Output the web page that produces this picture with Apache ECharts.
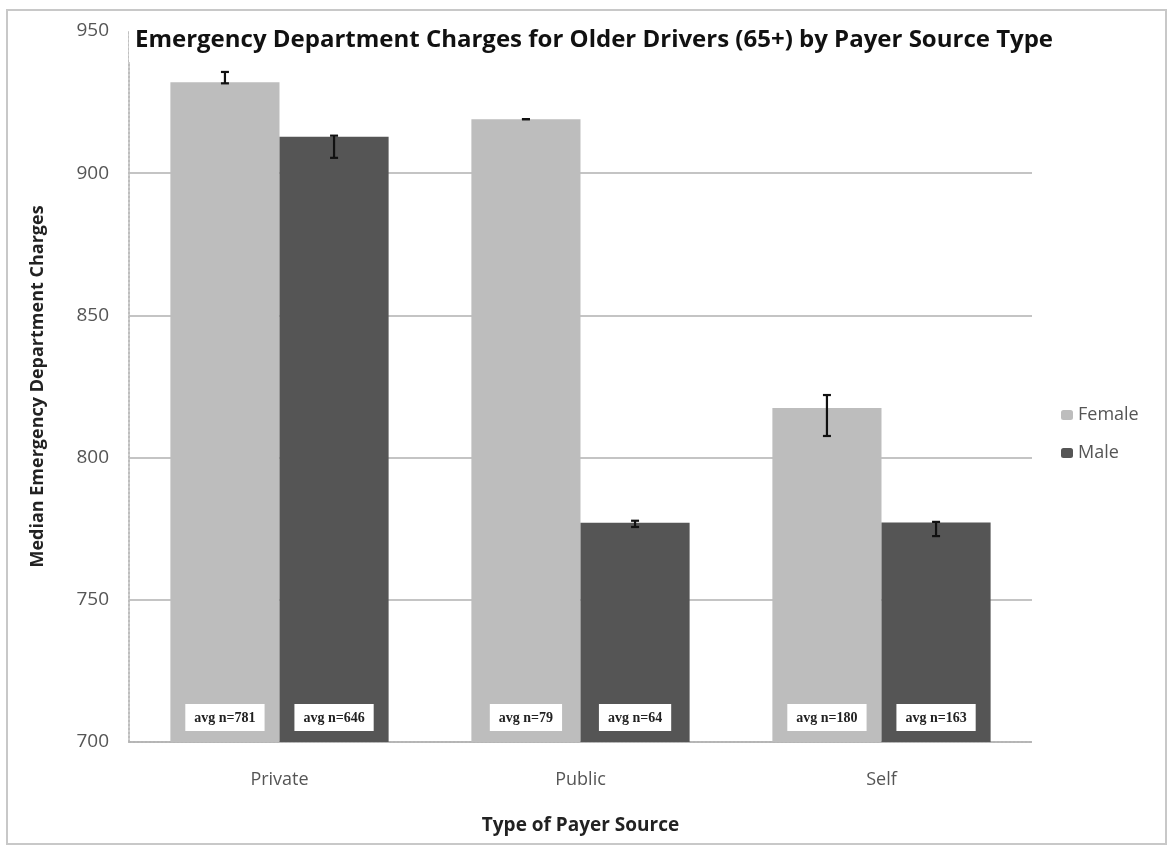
<!DOCTYPE html>
<html>
<head>
<meta charset="utf-8">
<script src="https://cdn.jsdelivr.net/npm/echarts@6/dist/echarts.min.js"></script>
<style>
html,body{margin:0;padding:0;background:#fff;}
#chart{width:1168px;height:850px;}
</style>
</head>
<body>
<div id="chart"></div>
<script>
const categories = ['Private', 'Public', 'Self'];
const femaleValues = [932, 919, 817.4];
const maleValues = [912.8, 777.1, 777.2];
const femaleErrLow = [931.6, 919, 807.6];
const femaleErrHigh = [935.6, 919, 822];
const maleErrLow = [905.4, 775.6, 772.4];
const maleErrHigh = [913.2, 777.8, 777.4];
const femaleN = [781, 79, 180];
const maleN = [646, 64, 163];
const yTicks = [700, 750, 800, 850, 900, 950];

const GAP = 0.275;

function errSeries(name, low, high, side) {
  return {
    name: name + ' err',
    type: 'custom',
    z: 10,
    silent: true,
    data: categories.map((c, i) => [i, low[i], high[i]]),
    encode: { x: 0, y: [1, 2] },
    renderItem: function (params, api) {
      const ci = api.value(0);
      const lo = api.value(1), hi = api.value(2);
      const band = api.size([1, 0])[0];
      const barW = band * (1 - GAP) / 2;
      const pLo = api.coord([ci, lo]);
      const pHi = api.coord([ci, hi]);
      const x = pLo[0] + side * barW / 2;
      const cap = 4;
      const st = { stroke: '#111', lineWidth: 2.2 };
      return {
        type: 'group',
        children: [
          { type: 'line', shape: { x1: x, y1: pLo[1], x2: x, y2: pHi[1] }, style: st },
          { type: 'line', shape: { x1: x - cap, y1: pLo[1], x2: x + cap, y2: pLo[1] }, style: st },
          { type: 'line', shape: { x1: x - cap, y1: pHi[1], x2: x + cap, y2: pHi[1] }, style: st }
        ]
      };
    }
  };
}

const labelStyle = {
  show: true,
  position: 'insideBottom',
  distance: 11,
  backgroundColor: '#fff',
  padding: [7, 9, 6, 9],
  color: '#222',
  fontFamily: 'Liberation Serif',
  fontWeight: 'bold',
  fontSize: 14
};

const chart = echarts.init(document.getElementById('chart'));
chart.setOption({
  animation: false,
  backgroundColor: '#fff',
  graphic: [{
    type: 'rect',
    shape: { x: 7, y: 10, width: 1159, height: 834 },
    style: { fill: 'none', stroke: '#c8c8c8', lineWidth: 2 },
    z: -1
  }],
  title: {
    text: 'Emergency Department Charges for Older Drivers (65+) by Payer Source Type',
    left: 588,
    textAlign: 'center',
    top: 18,
    padding: [10, 6, 10, 6],
    backgroundColor: '#fff',
    textStyle: { fontFamily: 'Open Sans', fontWeight: 'bold', fontSize: 24, color: '#111' }
  },
  legend: {
    orient: 'vertical',
    left: 1056,
    top: 401,
    itemWidth: 12,
    itemHeight: 10,
    itemGap: 20,
    data: ['Female', 'Male'],
    textStyle: { fontFamily: 'Open Sans', fontSize: 18, color: '#555' }
  },
  grid: { left: 129, right: 136, top: 31, bottom: 108 },
  xAxis: {
    type: 'category',
    data: categories,
    name: 'Type of Payer Source',
    nameLocation: 'middle',
    nameGap: 74,
    nameTextStyle: { fontFamily: 'Open Sans', fontWeight: 'bold', fontSize: 19, color: '#222' },
    axisLine: { lineStyle: { color: '#b5b5b5', type: 'dotted', width: 2 } },
    axisTick: { show: false },
    axisLabel: { margin: 29, fontFamily: 'Open Sans', fontSize: 18, color: '#555' }
  },
  yAxis: {
    type: 'value',
    min: 700,
    max: 950,
    interval: 50,
    name: 'Median Emergency Department Charges',
    nameLocation: 'middle',
    nameGap: 82,
    nameTextStyle: { fontFamily: 'Open Sans', fontWeight: 'bold', fontSize: 18, color: '#222' },
    axisLine: { show: true, lineStyle: { color: '#bdbdbd', type: 'dotted', width: 2 } },
    axisTick: { show: false },
    axisLabel: {
      margin: 20, fontFamily: 'Open Sans', fontSize: 19, color: '#555',
      formatter: v => (yTicks.indexOf(v) >= 0 ? String(v) : '')
    },
    splitLine: { lineStyle: { color: '#c4c4c4', width: 2 } }
  },
  series: [
    {
      name: 'Female',
      type: 'bar',
      data: femaleValues,
      barGap: '0%',
      barCategoryGap: (GAP * 100) + '%',
      itemStyle: { color: '#bdbdbd' },
      label: Object.assign({}, labelStyle, { formatter: p => 'avg n=' + femaleN[p.dataIndex] })
    },
    {
      name: 'Male',
      type: 'bar',
      data: maleValues,
      barGap: '0%',
      barCategoryGap: (GAP * 100) + '%',
      itemStyle: { color: '#555555' },
      label: Object.assign({}, labelStyle, { formatter: p => 'avg n=' + maleN[p.dataIndex] })
    },
    errSeries('Female', femaleErrLow, femaleErrHigh, -1),
    errSeries('Male', maleErrLow, maleErrHigh, 1)
  ]
});
</script>
</body>
</html>
